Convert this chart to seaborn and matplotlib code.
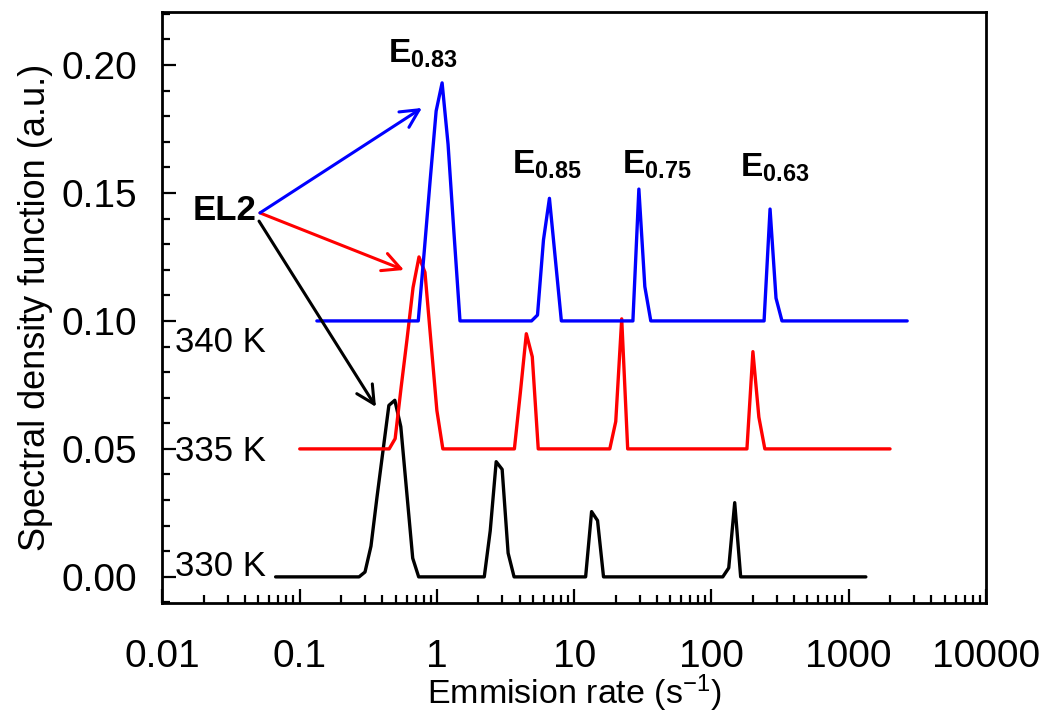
import numpy as np
import pandas as pd
import matplotlib
matplotlib.use("Agg")
import matplotlib.pyplot as plt
from matplotlib.ticker import LogLocator, MultipleLocator, NullFormatter
import seaborn as sns

# ---------------- data ----------------
temps = ["330 K", "335 K", "340 K"]
offsets = [0.0, 0.05, 0.10]
colors = ["#000000", "#FF0000", "#0000FF"]

black_x = [0.0667, 0.2705, 0.2989, 0.3304, 0.3652, 0.4036, 0.4461, 0.4930, 0.5449,
           0.6022, 0.6655, 0.7355, 2.2105, 2.4431, 2.7001, 2.9842, 3.2982, 3.6452,
           12.107, 13.38, 14.787, 16.347, 120.87, 133.6, 147.67, 163.2, 1333.3]
black_h = [0, 0, 0.0019, 0.012, 0.031, 0.049, 0.067, 0.069, 0.0587, 0.033, 0.0073, 0,
           0, 0.018, 0.045, 0.042, 0.0093, 0,
           0, 0.0255, 0.022, 0,
           0, 0.0035, 0.029, 0, 0]

red_x = [0.1, 0.4484, 0.4956, 0.5478, 0.6054, 0.6691, 0.7395, 0.8173, 0.9033, 0.9982,
         1.1033, 3.6646, 4.0502, 4.4763, 4.9473, 5.4678, 18.16, 20.07, 22.18, 24.52,
         181.3, 200.4, 221.5, 244.8, 2000]
red_h = [0, 0, 0.004, 0.024, 0.043, 0.063, 0.075, 0.069, 0.042, 0.015, 0,
         0, 0.022, 0.045, 0.036, 0,
         0, 0.0107, 0.0508, 0,
         0, 0.038, 0.0124, 0, 0]

blue_x = [0.1333, 0.7304, 0.8071, 0.8920, 0.9859, 1.0897, 1.2043, 1.3311, 1.4711,
          4.8861, 5.4003, 5.9684, 6.5965, 7.2904, 8.0577, 26.76, 29.58, 32.69, 36.13,
          241.7, 267.2, 295.3, 326.3, 2666.7]
blue_h = [0, 0, 0.027, 0.055, 0.082, 0.093, 0.069, 0.034, 0,
          0, 0.0023, 0.0316, 0.0479, 0.024, 0,
          0, 0.0515, 0.0134, 0,
          0, 0.0437, 0.0089, 0, 0]

xtick_vals = [0.01, 0.1, 1, 10, 100, 1000, 10000]
xtick_labels = ["0.01", "0.1", "1", "10", "100", "1000", "10000"]
ytick_vals = [0.00, 0.05, 0.10, 0.15, 0.20]
ytick_labels = ["0.00", "0.05", "0.10", "0.15", "0.20"]

peak_labels = [r"$\mathbf{E_{0.83}}$", r"$\mathbf{E_{0.85}}$", r"$\mathbf{E_{0.75}}$", r"$\mathbf{E_{0.63}}$"]
peak_label_pos = [(0.44, 0.2045), (3.52, 0.161), (22.3, 0.161), (161.5, 0.160)]

# ---------------- build long-form table ----------------
frames = []
for t, off, xs, hs in zip(temps, offsets, [black_x, red_x, blue_x], [black_h, red_h, blue_h]):
    frames.append(pd.DataFrame({"rate": xs, "sdf": np.asarray(hs) + off, "T": t}))
df = pd.concat(frames, ignore_index=True)

# ---------------- style ----------------
sns.set_style("ticks")
plt.rcParams["font.family"] = ["Liberation Sans", "DejaVu Sans"]
plt.rcParams["mathtext.fontset"] = "custom"
plt.rcParams["mathtext.rm"] = "Liberation Sans"
plt.rcParams["mathtext.bf"] = "Liberation Sans:bold"
plt.rcParams["mathtext.it"] = "Liberation Sans:italic"
for key in ["text.color", "axes.labelcolor", "xtick.color", "ytick.color", "axes.edgecolor"]:
    plt.rcParams[key] = "black"

fig = plt.figure(figsize=(10.45, 7.13), dpi=100)
ax = fig.add_axes([0.1555, 0.1543, 0.7880, 0.8289])

sns.lineplot(data=df, x="rate", y="sdf", hue="T", palette=colors, hue_order=temps,
             estimator=None, sort=False, units="T", legend=False, linewidth=2.4, ax=ax)

ax.set_xscale("log")
ax.set_xlim(0.01, 10000)
ax.set_ylim(-0.0102, 0.2207)

ax.set_xticks(xtick_vals, xtick_labels)
ax.xaxis.set_minor_locator(LogLocator(base=10, subs=np.arange(2, 10)))
ax.xaxis.set_minor_formatter(NullFormatter())
ax.set_yticks(ytick_vals, ytick_labels)
ax.yaxis.set_minor_locator(MultipleLocator(0.01))

ax.tick_params(axis="both", which="both", direction="in", top=False, right=False,
               width=1.6, labelsize=28, colors="black")
ax.tick_params(axis="both", which="major", length=10)
ax.tick_params(axis="both", which="minor", length=6)
ax.tick_params(axis="x", which="major", pad=26)
ax.tick_params(axis="y", which="major", pad=18)

for sp in ax.spines.values():
    sp.set_linewidth(2.0)
    sp.set_color("black")

ax.set_xlabel(r"Emmision rate (s$^{-1}$)", fontsize=24.5)
ax.xaxis.set_label_coords(0.5, -0.117)
ax.set_ylabel("Spectral density function (a.u.)", fontsize=26, labelpad=6)

# temperature labels
temp_label_pos = [(0.0123, 0.0040), (0.0123, 0.0490), (0.0123, 0.0915)]
for t, (tx, ty) in zip(temps, temp_label_pos):
    ax.text(tx, ty, t, fontsize=25, ha="left", va="center")

# peak labels
for lab, (px, py) in zip(peak_labels, peak_label_pos):
    ax.text(px, py, lab, fontsize=24, ha="left", va="center")

# EL2 and arrows
ax.text(0.0167, 0.143, "EL2", fontsize=25, fontweight="bold", ha="left", va="center")
arrow_starts = [(0.0505, 0.139), (0.0513, 0.1422), (0.0513, 0.1422)]
arrow_ends = [(0.3593, 0.0664), (0.575, 0.1199), (0.777, 0.1832)]
for (sx, sy), (ex, ey), c in zip(arrow_starts, arrow_ends, colors):
    ax.annotate("", xy=(ex, ey), xytext=(sx, sy),
                arrowprops=dict(arrowstyle="->,head_length=0.65,head_width=0.33",
                                color=c, lw=2.2, mutation_scale=20,
                                shrinkA=0, shrinkB=0))

fig.savefig("out.png", dpi=100)
